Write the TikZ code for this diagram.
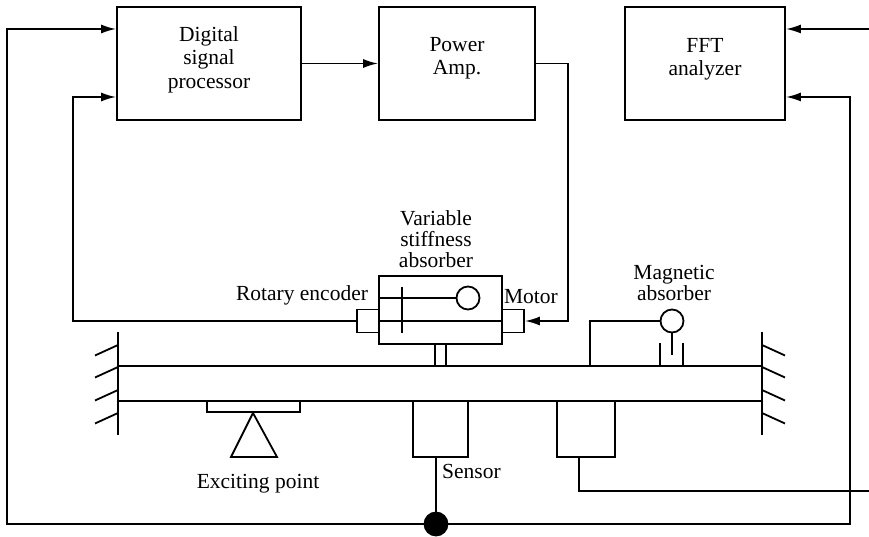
\documentclass[tikz,border=0pt]{standalone}
\usepackage{fontspec}
\setmainfont{Liberation Serif}
\usetikzlibrary{arrows.meta}

\tikzset{
	rigpicture/.style = {
		x = 1pt,
		y = -1pt,
		line width = 1.8pt,
		node distance = 248pt,
		every node/.style = {
			inner sep = 0pt,
			font = \fontsize{21.5}{23.5}\selectfont,
			align = center
		},
		arrow/.style = {
			draw,
			-{Latex[length = 15pt, width = 9pt]}
		}
	},
	block/.style = {
		draw,
		rectangle,
		minimum width = #1
	},
	mainblock/.style = {
		block = #1,
		minimum height = 113pt
	},
	sidebox/.style = {
		block = 22pt,
		minimum height = 23pt,
		node distance = 72.5pt,
		yshift = -11pt
	},
	probe/.style = {
		block = #1,
		minimum height = 56pt
	},
	ball/.style = {
		draw,
		circle,
		minimum size = 23pt
	},
	tightlabel/.style = {
		font = \fontsize{21.5}{21}\selectfont
	}
}

\begin{document}
\begin{tikzpicture}[rigpicture]
	\useasboundingbox (0,0) rectangle (869,537);

	\node[mainblock = 184pt, text depth = 12pt] (dsp) at (209,63.5) {Digital\\signal\\processor};
	\node[mainblock = 156pt, text depth = 15pt, right of = dsp] (amp) {Power\\Amp.};
	\node[mainblock = 160pt, text depth = 13pt, right of = amp] (fft) {FFT\\analyzer};

	\node[block = 644pt, minimum height = 35pt] (beam) at (440,383.5) {};

	\node[block = 123pt, minimum height = 68pt] (absorber) at (440.5,310) {};
	\node[sidebox, left of = absorber] (encoder) {};
	\node[sidebox, right of = absorber] (motor) {};
	\node[ball] (rotor) at (468,298) {};

	\node[ball] (magnet) at (672,321) {};

	\node[probe = 55pt, below of = beam, node distance = 45.5pt, xshift = .5pt] (sensor) {};
	\node[probe = 58pt, right of = sensor, node distance = 145.5pt] (pickup) {};
	\node[draw, circle, fill = black, minimum size = 23pt, below of = sensor, node distance = 95pt, xshift = -4.5pt] (hub) {};

	\node[block = 93pt, minimum height = 11pt] (pad) at (253.5,406.5) {};

	\node[tightlabel] (varlabel) at (436,239) {Variable\\stiffness\\absorber};
	\node (enclabel) at (302,295) {Rotary encoder};
	\node (motlabel) at (531,297) {Motor};
	\node[tightlabel] (maglabel) at (674,283) {Magnetic\\absorber};
	\node (senlabel) at (471.5,471) {Sensor};
	\node (exclabel) at (258,484) {Exciting point};

	\coordinate (leftcorner) at (7,524);
	\coordinate (rightcorner) at (850,524);
	\coordinate (fftend) at (869,29);
	\coordinate (pickend) at (869,491);
	\coordinate (ampturn) at (568,63.5);
	\coordinate (encturn) at (73,321);
	\coordinate (magturn) at (590,321);
	\coordinate (pickturn) at (579,491);

	\begin{scope}[every path/.style = arrow]
		\path (dsp) to (amp);
		\path (hub) -- (leftcorner) |- ([yshift = 34.5pt]dsp.west);
		\path (encoder.west) -- (encturn) |- ([yshift = -33.5pt]dsp.west);
		\path (amp.east) -- (ampturn) |- (motor.east);
		\path (fftend) -- ([yshift = 34.5pt]fft.east);
		\path (hub) -- (rightcorner) |- ([yshift = -33.5pt]fft.east);
	\end{scope}

	\draw (encoder.east) -- (motor.west);
	\draw (absorber.west |- rotor) -- (rotor);
	\draw (402,287) -- (402,333);
	\draw ([xshift = -5.5pt]absorber.south) -- ([xshift = -5.5pt]absorber.south |- beam.north);
	\draw ([xshift = 5.5pt]absorber.south) -- ([xshift = 5.5pt]absorber.south |- beam.north);

	\draw (magnet) -- (magturn) -- (magturn |- beam.north);
	\draw (magnet) -- (672,355);
	\draw (660,343) -- (660,366);
	\draw (683,343) -- (683,366);

	\draw (hub) -- (hub |- sensor.south);
	\draw (pickup.south -| pickturn) -- (pickturn) -- (pickend);

	\draw (253,413) -- (231,457) -- (277,457) -- cycle;

	% walls
	\foreach \wx/\dx in {118/-23, 762/23} {
		\draw (\wx,332) -- (\wx,435);
		\foreach \wy in {345,367,390,413}
			\draw (\wx,\wy) -- ++(\dx,10.5);
	}
\end{tikzpicture}
\end{document}
